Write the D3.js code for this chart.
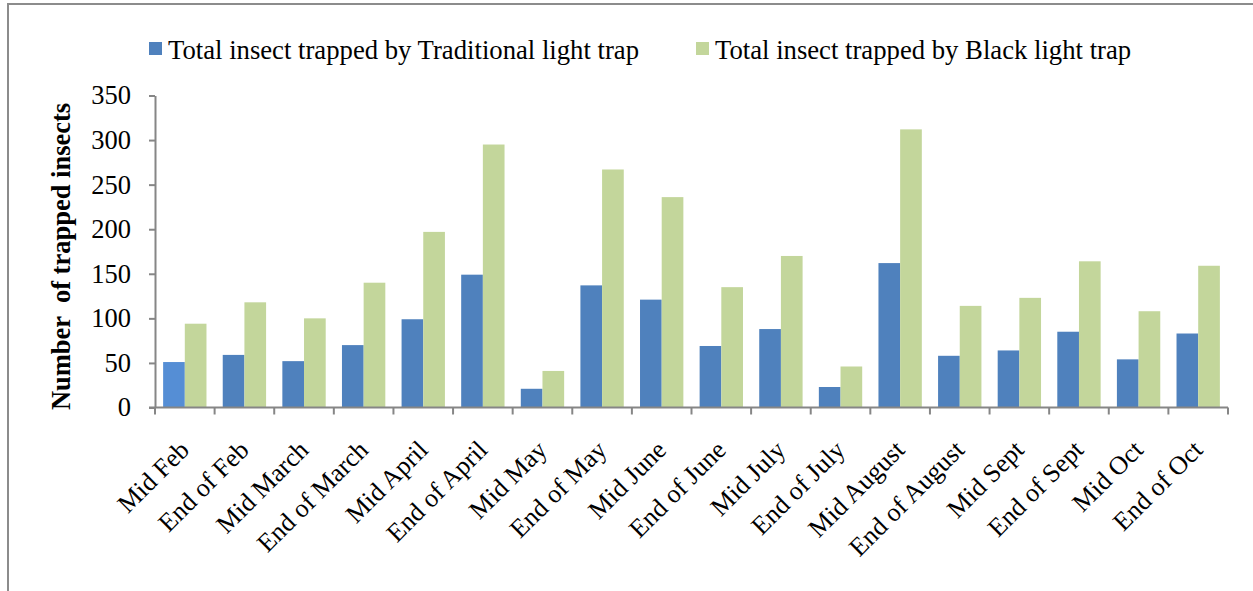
<!DOCTYPE html>
<html>
<head>
<meta charset="utf-8">
<script src="https://cdn.jsdelivr.net/npm/d3@7"></script>
<style>
  body { margin: 0; background: #fff; }
  svg { display: block; font-family: "Liberation Serif", "Times New Roman", serif; }
</style>
</head>
<body>
<svg id="chart" width="1253" height="591"></svg>
<script>
const categories = ["Mid Feb", "End of Feb", "Mid March", "End of March", "Mid April",
  "End of April", "Mid May", "End of May", "Mid June", "End of June", "Mid July",
  "End of July", "Mid August", "End of August", "Mid Sept", "End of Sept", "Mid Oct", "End of Oct"];
const traditional = [51, 59, 52, 70, 99, 149, 21, 137, 121, 69, 88, 23, 162, 58, 64, 85, 54, 83];
const blacklight = [94, 118, 100, 140, 197, 295, 41, 267, 236, 135, 170, 46, 312, 114, 123, 164, 108, 159];
const seriesNames = ["Total insect trapped by Traditional light trap", "Total insect trapped by Black light trap"];
const yTicks = [0, 50, 100, 150, 200, 250, 300, 350];

const width = 1253, height = 591;
const margin = { left: 155, right: 25, top: 95.5, bottom: 183.5 };
const blue = "#4F81BD", green = "#C3D69B", axisColor = "#868686";

const svg = d3.select("#chart");

// outer frame (only top and left visible)
svg.append("path")
  .attr("d", `M8,${height}V4H${width}`)
  .attr("fill", "none")
  .attr("stroke", "#8c8c8c")
  .attr("stroke-width", 2);

const x = d3.scaleBand()
  .domain(categories)
  .range([margin.left, width - margin.right]);

// gap width 75% of a bar -> 0.375 bar on each side of the pair
const x1 = d3.scaleBand()
  .domain([0, 1])
  .range([0, x.bandwidth()])
  .paddingInner(0)
  .paddingOuter(0.375);

const y = d3.scaleLinear()
  .domain([0, 350])
  .range([height - margin.bottom, margin.top]);

// bars
const groups = svg.append("g").selectAll("g")
  .data(categories)
  .join("g")
  .attr("transform", d => `translate(${x(d)},0)`);

groups.append("rect")
  .attr("x", x1(0))
  .attr("width", x1.bandwidth())
  .attr("y", (d, i) => y(traditional[i]))
  .attr("height", (d, i) => y(0) - y(traditional[i]))
  .attr("fill", (d, i) => i === 0 ? "#558ED5" : blue);

groups.append("rect")
  .attr("x", x1(1))
  .attr("width", x1.bandwidth())
  .attr("y", (d, i) => y(blacklight[i]))
  .attr("height", (d, i) => y(0) - y(blacklight[i]))
  .attr("fill", green);

// y axis
const yAxis = svg.append("g")
  .attr("transform", `translate(${margin.left},0)`)
  .call(d3.axisLeft(y).tickValues(yTicks).tickSize(6).tickPadding(18).tickSizeOuter(0));
yAxis.select(".domain").attr("stroke", axisColor).attr("stroke-width", 2);
yAxis.selectAll(".tick line").attr("stroke", axisColor).attr("stroke-width", 2);
yAxis.selectAll(".tick text")
  .attr("fill", "#000")
  .style("font-size", "26.5px")
  .style("font-family", "Liberation Serif");

// x axis with ticks at band boundaries
const xAxis = svg.append("g")
  .attr("transform", `translate(0,${y(0)})`);
xAxis.append("line")
  .attr("x1", margin.left - 6).attr("x2", width - margin.right)
  .attr("stroke", axisColor).attr("stroke-width", 2);
const edges = categories.map(d => x(d)).concat([width - margin.right]);
xAxis.selectAll(".xtick")
  .data(edges)
  .join("line")
  .attr("class", "xtick")
  .attr("x1", d => d).attr("x2", d => d)
  .attr("y1", 0).attr("y2", 7)
  .attr("stroke", axisColor).attr("stroke-width", 2);

xAxis.selectAll(".xlabel")
  .data(categories)
  .join("text")
  .attr("class", "xlabel")
  .attr("transform", d => `translate(${x(d) + x.bandwidth() / 2 + 6},${44}) rotate(-45)`)
  .attr("text-anchor", "end")
  .style("font-size", "26px")
  .text(d => d);

// y title
svg.append("text")
  .attr("transform", `translate(70,${(margin.top + y(0)) / 2 + 5}) rotate(-90)`)
  .attr("text-anchor", "middle")
  .style("font-size", "26.5px")
  .style("font-weight", "bold")
  .style("white-space", "pre")
  .text("Number  of trapped insects");

// legend
const legendItems = [
  { name: seriesNames[0], color: blue, x: 149 },
  { name: seriesNames[1], color: green, x: 696 }
];
const legend = svg.append("g").selectAll("g")
  .data(legendItems)
  .join("g")
  .attr("transform", d => `translate(${d.x},42)`);
legend.append("rect")
  .attr("width", 13).attr("height", 13)
  .attr("fill", d => d.color);
legend.append("text")
  .attr("x", 19).attr("y", 17)
  .style("font-size", "26.7px")
  .text(d => d.name);
</script>
</body>
</html>
